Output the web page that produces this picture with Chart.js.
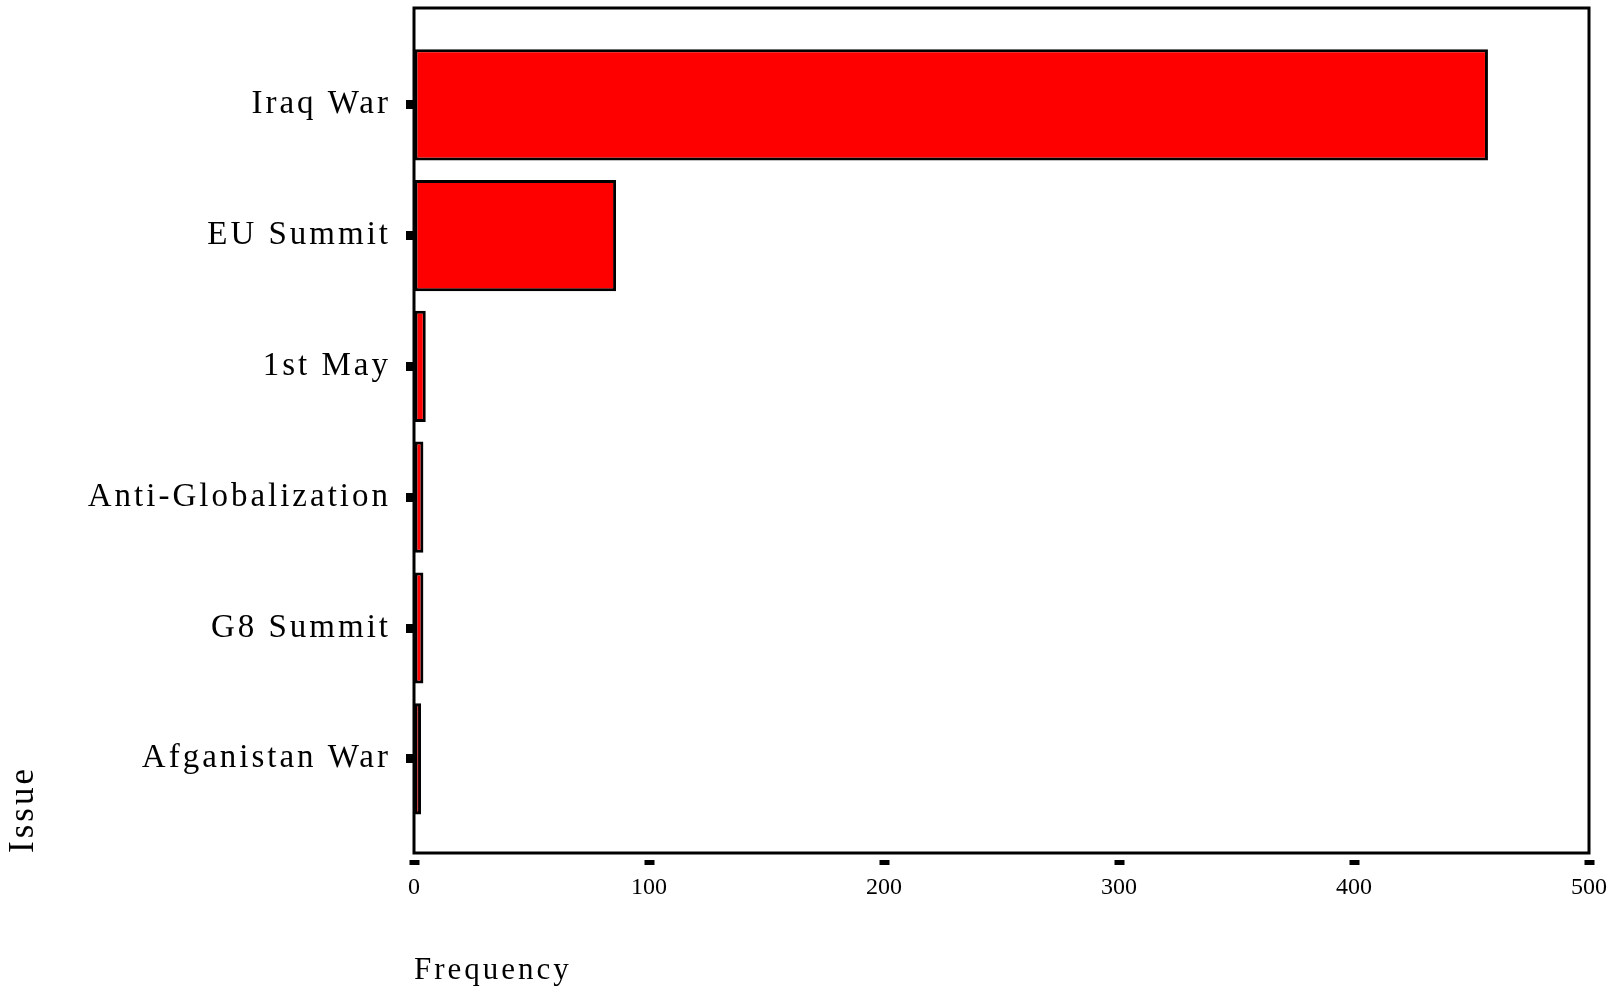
<!DOCTYPE html>
<html>
<head>
<meta charset="utf-8">
<script src="https://cdn.jsdelivr.net/npm/chart.js@4.4.1/dist/chart.umd.min.js"></script>
<style>
  html, body { margin: 0; padding: 0; background: #fff; overflow: hidden; }
  #wrap { width: 1623px; height: 992px; position: relative; }
</style>
</head>
<body>
<div id="wrap"><canvas id="issueChart"></canvas></div>
<script>
// Issues, top to bottom as in the original chart
const issues = ['Iraq War', 'EU Summit', '1st May', 'Anti-Globalization', 'G8 Summit', 'Afganistan War'];
const frequency = [457, 86, 5, 4, 4, 3];
const freqTicks = [0, 100, 200, 300, 400, 500];

const serif = "'Liberation Serif', 'Times New Roman', serif";
const n = issues.length;

// bars on a linear y scale so the empty band above/below the bars can be set freely
const barPoints = frequency.map((v, i) => ({ x: v, y: n - 1 - i }));

// black frame round the plot, plus the wide letter spacing of the original labels
const framePlugin = {
    id: 'frame',
    beforeDraw(chart) {
        chart.ctx.letterSpacing = '3px';
    },
    afterDatasetsDraw(chart) {
        const ctx = chart.ctx;
        const a = chart.chartArea;
        ctx.letterSpacing = '0px'; // x tick numbers are drawn after this (ticks.z = 1)
        ctx.save();
        ctx.strokeStyle = '#000';
        ctx.lineWidth = 3;
        ctx.strokeRect(a.left, a.top, a.right - a.left, a.bottom - a.top);
        ctx.restore();
    }
};

new Chart(document.getElementById('issueChart'), {
    type: 'bar',
    data: {
        datasets: [{
            data: barPoints,
            backgroundColor: '#ff0000',
            borderColor: '#000',
            borderWidth: 3,
            borderSkipped: false,
            barPercentage: 0.85,
            categoryPercentage: 1
        }]
    },
    options: {
        indexAxis: 'y',
        responsive: true,
        maintainAspectRatio: false,
        animation: false,
        layout: { padding: { top: 8, right: 34, bottom: 0, left: 0 } },
        plugins: {
            legend: { display: false },
            tooltip: { enabled: false }
        },
        scales: {
            x: {
                type: 'linear',
                position: 'bottom',
                min: freqTicks[0],
                max: freqTicks[freqTicks.length - 1],
                offset: false,
                afterBuildTicks: s => { s.ticks = freqTicks.map(v => ({ value: v })); },
                border: { display: false },
                grid: {
                    offset: false,
                    drawOnChartArea: false,
                    tickLength: 12,
                    tickWidth: 10,
                    tickColor: '#000',
                    tickBorderDash: [0, 7, 5, 50]
                },
                ticks: { z: 1, padding: 8, color: '#000', font: { family: serif, size: 24 } },
                title: {
                    display: true,
                    text: 'Frequency',
                    align: 'start',
                    color: '#000',
                    font: { family: serif, size: 31 },
                    padding: { top: 0, bottom: 3 }
                },
                afterFit: s => { s.height = 139; s.paddingLeft = 0; s.paddingRight = 0; }
            },
            y: {
                type: 'linear',
                position: 'left',
                min: -0.72,
                max: n - 1 + 0.74,
                offset: false,
                afterBuildTicks: s => { s.ticks = issues.map((_, i) => ({ value: i })); },
                border: { display: false },
                grid: {
                    offset: false,
                    drawOnChartArea: false,
                    tickLength: 8,
                    tickWidth: 9,
                    tickColor: '#000'
                },
                ticks: {
                    callback: v => issues[n - 1 - v],
                    padding: 15,
                    color: '#000',
                    font: { family: serif, size: 33 }
                },
                title: {
                    display: true,
                    text: 'Issue',
                    align: 'start',
                    color: '#000',
                    font: { family: serif, size: 35 },
                    padding: { top: 3, bottom: 0 }
                },
                afterFit: s => { s.width = 414; s.paddingTop = 0; s.paddingBottom = 0; }
            }
        }
    },
    plugins: [framePlugin]
});
</script>
</body>
</html>
